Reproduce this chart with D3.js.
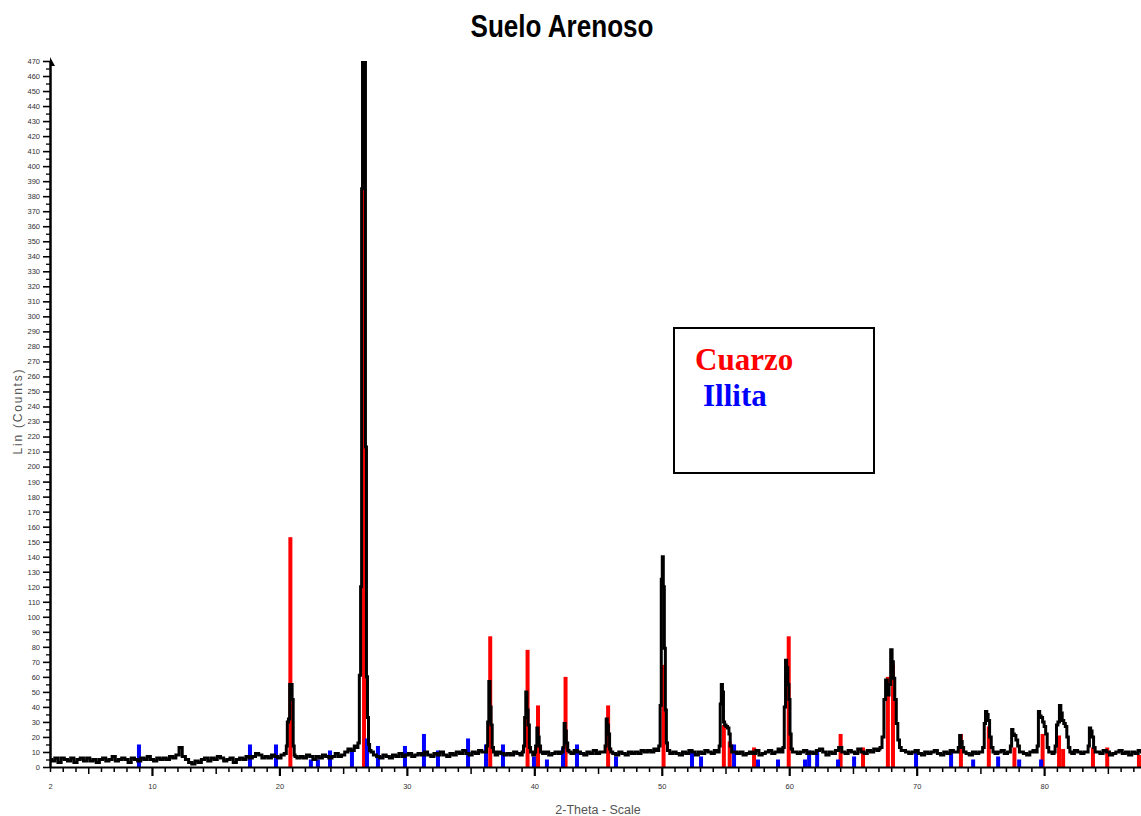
<html>
<script src="https://cdn.jsdelivr.net/npm/d3@7"></script>
<style>
body {margin: 0; background: #fff;}
.tick text {font-family: "Liberation Sans", Arial, sans-serif; font-size: 7.5px; fill: #333;}
</style>
<body>
<svg width="1141" height="816"></svg>
<script>
// background of the scan, one value every 0.25 deg from 2 deg (4 per row = 1 deg)
const bgStart = 2, bgStep = 0.25;
const bgCounts = [
  5,4,6,3, 6,5,4,6, 3,5,6,4, 6,4,5,3, 5,6,4,5, 7,4,5,6, 5,3,6,5, 4,6,5,7,
  5,4,6,5, 6,5,7,6, 8,13,7,5, 3,2,4,3, 5,6,4,6, 5,7,6,4, 5,6,3,5, 6,5,7,6,
  7,9,8,6, 7,6,8,7, 6,8,7,9, 8,7,6,7, 6,8,7,5, 7,6,8,7, 6,7,9,7, 8,10,12,11,
  14,13,16,14, 12,10,8,7, 6,8,7,6, 8,7,9,7, 8,9,7,8, 9,8,10,8, 7,9,8,10, 8,7,9,8,
  10,9,11,9, 8,10,9,11, 10,9,11,9, 8,10,9,8, 9,8,10,9, 8,9,10,9, 8,12,11,9, 10,8,9,10,
  9,10,12,10, 9,11,10,9, 8,10,9,11, 9,10,12,11, 10,9,8,10, 9,8,10,9, 10,9,11,10, 11,10,12,11,
  12,10,10,9, 10,9,8,10, 9,11,10,8, 10,9,11,10, 9,11,12,11, 14,13,11,10, 9,10,8,9, 10,9,11,8,
  9,10,11,9, 10,12,11,13, 14,11,10,9, 10,11,9,10, 9,11,12,10, 8,10,9,11, 13,10,9,11, 10,9,12,10,
  9,11,10,12, 11,13,14,16, 20,18,20,14, 11,10,9,10, 11,9,8,10, 9,10,11,9, 8,10,9,11, 10,9,14,11,
  9,8,10,9, 10,12,14,14, 11,9,10,11, 9,10,12,14, 11,10,9,8, 10,11,14,20, 18,12,10,9, 11,20,20,12,
  10,9,11,10, 9,10,11,20, 13,10,9,11, 10,8,9,10, 11,9,10,8, 10,9,11,10
];

// peaks of the scan [2theta, counts]
const peak21 = [[20.5,9],[20.58,14],[20.66,30],[20.76,32],[20.85,55],[20.95,55],[21.04,45],[21.12,14],[21.2,8]];
const peak26 = [[26.1,13],[26.22,16],[26.32,61],[26.42,120],[26.48,385],[26.56,500],[26.64,500],[26.71,480],[26.79,213],[26.87,60],[26.95,33],[27.03,15],[27.12,11]];
const peak36 = [[36.2,10],[36.3,14],[36.38,30],[36.48,57],[36.56,40],[36.65,28],[36.74,13],[36.85,10]];
const peak39 = [[39.1,10],[39.2,14],[39.28,33],[39.38,50],[39.46,38],[39.56,28],[39.66,13],[39.75,10]];
const peak40 = [[40.05,10],[40.15,14],[40.25,26],[40.33,20],[40.43,14],[40.55,10]];
const peak42 = [[42.2,10],[42.3,13],[42.38,29],[42.46,24],[42.56,16],[42.68,11]];
const peak45 = [[45.5,10],[45.6,14],[45.68,32],[45.76,28],[45.86,22],[45.95,12],[46.05,10]];
const peak50 = [[49.7,11],[49.82,14],[49.92,41],[50.0,125],[50.08,140],[50.16,120],[50.24,79],[50.32,38],[50.4,16],[50.5,11]];
const peak55 = [[54.45,10],[54.55,14],[54.62,42],[54.72,55],[54.8,50],[54.88,30],[54.98,28],[55.1,27],[55.22,26],[55.32,22],[55.42,14],[55.55,10]];
const peak60 = [[59.45,10],[59.56,13],[59.66,40],[59.76,71],[59.84,66],[59.93,55],[60.02,45],[60.1,22],[60.2,12],[60.32,10]];
const peak68 = [[67.05,12],[67.2,13],[67.36,20],[67.5,45],[67.62,58],[67.76,48],[67.9,55],[68.02,78],[68.12,70],[68.22,59],[68.34,45],[68.46,29],[68.58,18],[68.72,13],[68.85,11]];
const peak73 = [[73.2,10],[73.32,13],[73.42,21],[73.52,17],[73.62,13],[73.75,10]];
const peak75 = [[75.1,10],[75.25,13],[75.35,29],[75.45,37],[75.55,35],[75.66,31],[75.78,20],[75.92,13],[76.05,10]];
const peak77 = [[77.3,10],[77.4,14],[77.5,25],[77.6,22],[77.72,21],[77.85,18],[78.0,14],[78.12,10]];
const peak80 = [[79.4,10],[79.5,14],[79.6,37],[79.7,34],[79.82,33],[79.94,30],[80.06,27],[80.18,22],[80.3,13],[80.42,10]];
const peak81 = [[80.8,10],[80.92,14],[81.02,28],[81.14,30],[81.26,41],[81.36,36],[81.48,31],[81.6,29],[81.72,27],[81.84,20],[81.96,13],[82.08,10]];
const peak83 = [[83.4,10],[83.5,14],[83.6,26],[83.7,24],[83.82,20],[83.94,13],[84.06,10]];

// reference sticks
const cuarzoTheta = [20.86,26.64,36.54,39.47,40.29,42.45,45.79,50.14,54.87,55.33,57.24,59.96,64.03,65.79,67.74,68.14,73.47,75.66,77.67,79.88,81.17,81.49,83.83,84.95,87.44];
const cuarzoCounts = [153,480,87,78,41,60,41,68,28,17,13,87,22,13,60,68,22,27,13,22,21,12,13,13,8];
const illitaTheta = [8.98,17.69,19.73,22.47,23.02,23.97,25.69,26.87,27.73,29.85,31.34,32.44,34.8,36.21,37.54,39.97,40.99,42.25,43.35,46.41,52.37,53.08,55.67,57.55,59.12,61.24,61.56,62.19,63.83,65.09,69.95,72.7,74.43,76.39,78.04,79.76];
const illitaCounts = [15,15,15,5,5,11,11,19,14,14,22,11,19,15,15,7,5,13,15,7,11,7,15,5,5,5,11,11,5,7,11,10,5,7,5,5];

const xLabels = [2,10,20,30,40,50,60,70,80];

// build scan
const peaks = [peak21,peak26,peak36,peak39,peak40,peak42,peak45,peak50,peak55,peak60,peak68,peak73,peak75,peak77,peak80,peak81,peak83];
let scan = bgCounts.map((c,i) => [bgStart + i*bgStep, c])
  .filter(p => !peaks.some(pk => p[0] >= pk[0][0] && p[0] <= pk[pk.length-1][0]));
peaks.forEach(pk => scan = scan.concat(pk));
scan.sort((a,b) => a[0]-b[0]);

var svg = d3.select("svg");
var x = d3.scaleLinear().domain([2, 87.6]).range([50, 1141]);
var y = d3.scaleLinear().domain([0, 470]).range([767, 61]);

svg.append("defs").append("clipPath").attr("id","plot")
  .append("rect").attr("x",50).attr("y",61).attr("width",1091).attr("height",706);

var plot = svg.append("g").attr("clip-path","url(#plot)");

plot.selectAll(".cz").data(cuarzoTheta).enter().append("rect")
  .attr("x", d => x(d)-2).attr("width",4)
  .attr("y", (d,i) => y(cuarzoCounts[i])).attr("height", (d,i) => y(0)-y(cuarzoCounts[i]))
  .style("fill","#ff0000");
plot.selectAll(".il").data(illitaTheta).enter().append("rect")
  .attr("x", d => x(d)-2).attr("width",4)
  .attr("y", (d,i) => y(illitaCounts[i])).attr("height", (d,i) => y(0)-y(illitaCounts[i]))
  .style("fill","#0000ff");

plot.append("path").datum(scan)
  .attr("d", d3.line().x(d => x(d[0])).y(d => y(d[1])).curve(d3.curveStep))
  .style("fill","none").style("stroke","#000").style("stroke-width",3).style("stroke-linejoin","miter");

// y axis
var yMinor = svg.append("g").attr("transform","translate(50,0)")
  .call(d3.axisLeft(y).tickValues(d3.range(5,470,10)).tickSize(4).tickSizeOuter(0).tickFormat(""));
var yMajor = svg.append("g").attr("transform","translate(50,0)")
  .call(d3.axisLeft(y).tickValues(d3.range(0,471,10)).tickSize(7).tickPadding(3).tickSizeOuter(0));
yMinor.selectAll("line").style("stroke-width",1.3);
yMajor.selectAll("line").style("stroke-width",1.6);
yMajor.select(".domain").style("stroke-width",2.5);
svg.append("path").attr("d","M50,57 L55,66 L50,66 Z").style("fill","#000");

// x axis
var xMinor = svg.append("g").attr("transform","translate(0,767)")
  .call(d3.axisBottom(x).tickValues(d3.range(3,88,1).filter(d => d%10 != 0)).tickSizeOuter(0).tickFormat(""));
xMinor.selectAll(".tick line").attr("y2", d => d%5==0 ? 7 : 5).style("stroke-width",1.5);
xMinor.select(".domain").remove();
var xMajor = svg.append("g").attr("transform","translate(0,767)")
  .call(d3.axisBottom(x).tickValues(xLabels).tickSize(9).tickPadding(8).tickSizeOuter(0));
xMajor.selectAll(".tick line").attr("y2", d => d==2 ? 5 : 9).style("stroke-width", d => d==2 ? 1.5 : 2.2);
xMajor.select(".domain").style("stroke-width",2);

// labels
svg.append("text").attr("x",562).attr("y",37).attr("text-anchor","middle")
  .attr("textLength",183).attr("lengthAdjust","spacingAndGlyphs")
  .style("font-family","'Liberation Sans', Arial, sans-serif").style("font-weight","bold").style("font-size","31px")
  .text("Suelo Arenoso");
svg.append("text").attr("x",598).attr("y",814).attr("text-anchor","middle")
  .style("font-family","'Liberation Sans', Arial, sans-serif").style("font-size","12.5px").style("fill","#555")
  .text("2-Theta - Scale");
svg.append("text").attr("transform","translate(22,412) rotate(-90)").attr("text-anchor","middle")
  .attr("textLength",85).attr("lengthAdjust","spacing")
  .style("font-family","'Liberation Sans', Arial, sans-serif").style("font-size","12px").style("fill","#555")
  .text("Lin (Counts)");

// legend box
svg.append("rect").attr("x",674).attr("y",328).attr("width",200).attr("height",145)
  .style("fill","#fff").style("stroke","#000").style("stroke-width",2);
svg.append("text").attr("x",695).attr("y",370)
  .style("font-family","'Liberation Serif', 'Times New Roman', serif").style("font-weight","bold").style("font-size","31px").style("fill","#ff0000")
  .text("Cuarzo");
svg.append("text").attr("x",703).attr("y",406)
  .style("font-family","'Liberation Serif', 'Times New Roman', serif").style("font-weight","bold").style("font-size","31px").style("fill","#0000ff")
  .text("Illita");
</script>
</body>
</html>
